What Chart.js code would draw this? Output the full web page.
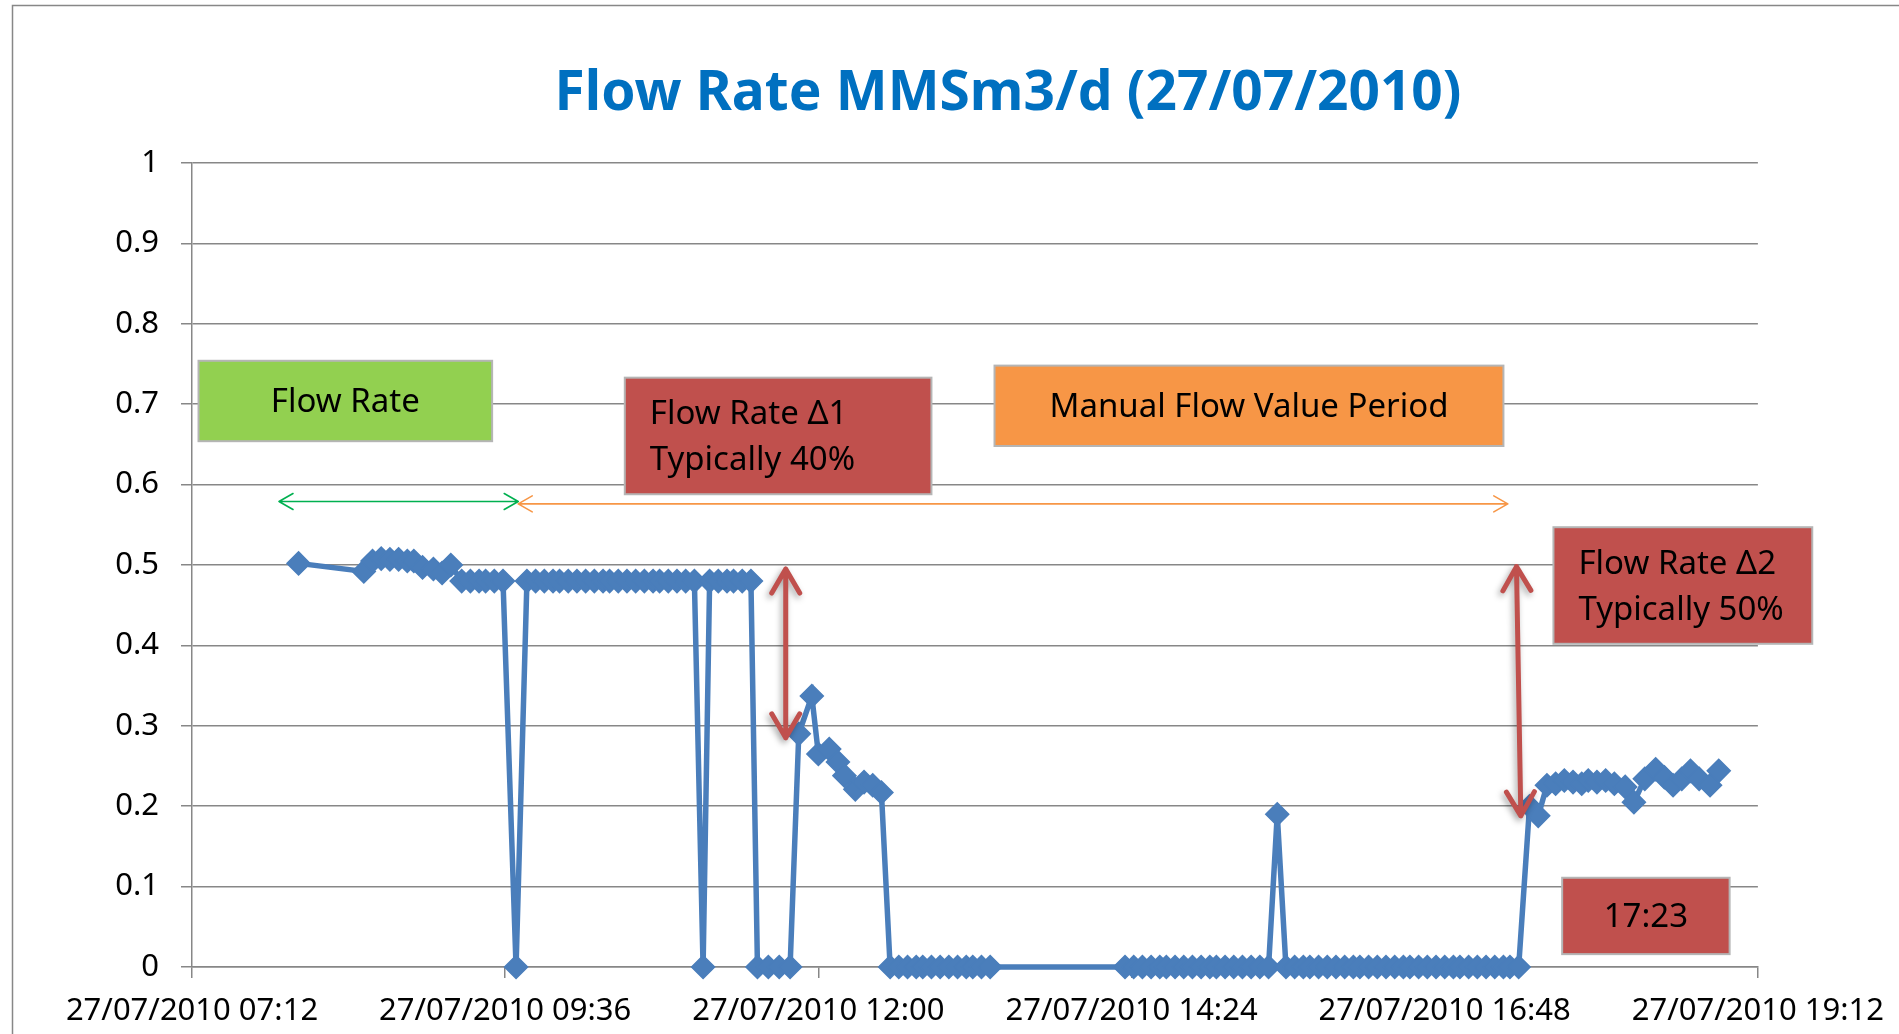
<!DOCTYPE html>
<html>
<head>
<meta charset="utf-8">
<title>Flow Rate MMSm3/d (27/07/2010)</title>
<script src="https://cdn.jsdelivr.net/npm/chart.js@4.4.1/dist/chart.umd.min.js"></script>
<style>
  html, body { margin: 0; padding: 0; background: #fff; }
  #wrap { width: 1899px; height: 1034px; }
</style>
</head>
<body>
<div id="wrap"><canvas id="flowChart" width="1899" height="1034"></canvas></div>
<script>
const chartTitle = "Flow Rate MMSm3/d (27/07/2010)";
const dateLabel = "27/07/2010";

// sample times and flow values
const sampleTimes = [
  "08:01","08:31","08:35","08:39","08:43","08:47","08:51","08:54","08:58","09:03","09:07","09:11",
  "09:16","09:20","09:24","09:27","09:31","09:35","09:41",
  "09:46","09:50","09:54","09:58","10:01","10:05","10:09","10:13","10:17","10:21","10:24",
  "10:28","10:32","10:36","10:40","10:44","10:47","10:51","10:55","10:59","11:03",
  "11:07",
  "11:10","11:14","11:18","11:21","11:25","11:29",
  "11:32","11:37","11:42","11:47",
  "11:51","11:57","12:00","12:05","12:09","12:12","12:17","12:21","12:25","12:29",
  "12:33","12:37","12:41","12:45","12:48","12:52","12:56","13:00","13:04","13:08","13:11","13:15","13:19",
  "14:21","14:25","14:29","14:33","14:37","14:40","14:44","14:48","14:52","14:56","15:00","15:03",
  "15:07","15:11","15:15","15:19","15:23","15:27",
  "15:31",
  "15:35","15:39","15:43","15:46","15:50","15:54","15:58","16:02","16:06","16:09","16:13","16:17",
  "16:21","16:25","16:29","16:32","16:36","16:40","16:44","16:48","16:52","16:55","16:59","17:03",
  "17:07","17:11","17:15","17:18",
  "17:22","17:27","17:31","17:35","17:39","17:43","17:47","17:51","17:54","17:58","18:02","18:06",
  "18:11","18:15","18:20","18:25","18:29","18:33","18:37","18:41","18:45","18:50","18:54"
];

const flowValues = [
  0.502,0.492,0.505,0.508,0.507,0.507,0.505,0.505,0.497,0.495,0.490,0.500,
  0.48,0.48,0.48,0.48,0.48,0.48,0,
  0.48,0.48,0.48,0.48,0.48,0.48,0.48,0.48,0.48,0.48,0.48,
  0.48,0.48,0.48,0.48,0.48,0.48,0.48,0.48,0.48,0.48,
  0,
  0.48,0.48,0.48,0.48,0.48,0.48,
  0,0,0,0,
  0.290,0.337,0.265,0.271,0.255,0.238,0.221,0.230,0.226,0.217,
  0,0,0,0,0,0,0,0,0,0,0,0,0,
  0,0,0,0,0,0,0,0,0,0,0,0,
  0,0,0,0,0,0,
  0.190,
  0,0,0,0,0,0,0,0,0,0,0,0,0,
  0,0,0,0,0,0,0,0,0,0,0,0,
  0,0,0,0,
  0.200,0.188,0.226,0.228,0.232,0.230,0.228,0.232,0.230,0.232,0.228,0.224,
  0.205,0.234,0.246,0.236,0.226,0.234,0.244,0.234,0.226,0.244,0.246
];

const xTickTimes = ["07:12", "09:36", "12:00", "14:24", "16:48", "19:12"];
const yTickValues = [0, 0.1, 0.2, 0.3, 0.4, 0.5, 0.6, 0.7, 0.8, 0.9, 1];

// callout boxes and arrows, placed in chart units (time, flow)
const noteBoxes = [
  { lines: ["Flow Rate"], from: "07:15", to: "09:30", top: 0.754, bottom: 0.654, fill: "#92D050", align: "center" },
  { lines: ["Flow Rate \u03941", "Typically 40%"], from: "10:31", to: "12:52", top: 0.733, bottom: 0.588, fill: "#C0504D", align: "left" },
  { lines: ["Manual Flow Value Period"], from: "13:21", to: "17:15", top: 0.748, bottom: 0.648, fill: "#F79646", align: "center" },
  { lines: ["Flow Rate \u03942", "Typically 50%"], from: "17:38", to: "19:37", top: 0.547, bottom: 0.402, fill: "#C0504D", align: "left" },
  { lines: ["17:23"], from: "17:42", to: "18:59", top: 0.111, bottom: 0.016, fill: "#C0504D", align: "center" }
];

const noteArrows = [
  { from: ["07:52", 0.579], to: ["09:42", 0.579], color: "#00B050", width: 1.6, head: 14, spread: 8, shadow: false },
  { from: ["09:42", 0.576], to: ["17:17", 0.576], color: "#F79646", width: 1.6, head: 14, spread: 8, shadow: false },
  { from: ["11:45", 0.495], to: ["11:45", 0.285], color: "#C0504D", width: 5, head: 24, spread: 14, shadow: true },
  { from: ["17:21", 0.498], to: ["17:23", 0.188], color: "#C0504D", width: 5, head: 24, spread: 14, shadow: true }
];

function toMinutes(t) {
  const [h, m] = t.split(":").map(Number);
  return h * 60 + m;
}

const fontFamily = "'Noto Sans', 'DejaVu Sans', sans-serif";
const gridColor = "#878787";

function drawArrow(ctx, x1, y1, x2, y2, a) {
  const ang = Math.atan2(y2 - y1, x2 - x1);
  ctx.save();
  if (a.shadow) {
    ctx.shadowColor = "rgba(0, 0, 0, 0.35)";
    ctx.shadowBlur = 6;
    ctx.shadowOffsetX = -2;
    ctx.shadowOffsetY = 3;
  }
  ctx.strokeStyle = a.color;
  ctx.lineWidth = a.width;
  ctx.lineCap = "round";
  ctx.lineJoin = "round";
  ctx.beginPath();
  ctx.moveTo(x1, y1);
  ctx.lineTo(x2, y2);
  [[x1, y1, ang + Math.PI], [x2, y2, ang]].forEach(([x, y, r]) => {
    const c = Math.cos(r), s = Math.sin(r);
    ctx.moveTo(x - a.head * c + a.spread * s, y - a.head * s - a.spread * c);
    ctx.lineTo(x, y);
    ctx.lineTo(x - a.head * c - a.spread * s, y - a.head * s + a.spread * c);
  });
  ctx.stroke();
  ctx.restore();
}

const notesPlugin = {
  id: "notes",
  beforeDraw(chart) {
    const ctx = chart.ctx;
    ctx.save();
    // outer frame, cut off on the right and at the bottom
    ctx.strokeStyle = gridColor;
    ctx.lineWidth = 1.5;
    ctx.strokeRect(12.5, 5.5, chart.width + 20, chart.height + 20);
    // title
    ctx.fillStyle = "#0070C0";
    ctx.font = "bold 55px " + fontFamily;
    ctx.textAlign = "center";
    ctx.textBaseline = "middle";
    ctx.fillText(chartTitle, 1008, 94);
    ctx.restore();
  },
  afterDatasetsDraw(chart) {
    const ctx = chart.ctx;
    const xs = chart.scales.x, ys = chart.scales.y;
    ctx.save();
    noteBoxes.forEach(b => {
      const x0 = xs.getPixelForValue(toMinutes(b.from));
      const x1 = xs.getPixelForValue(toMinutes(b.to));
      const y0 = ys.getPixelForValue(b.top);
      const y1 = ys.getPixelForValue(b.bottom);
      ctx.fillStyle = b.fill;
      ctx.fillRect(x0, y0, x1 - x0, y1 - y0);
      ctx.strokeStyle = "#b5b5b5";
      ctx.lineWidth = 2;
      ctx.strokeRect(x0, y0, x1 - x0, y1 - y0);
      ctx.fillStyle = "#000";
      ctx.font = "33px " + fontFamily;
      ctx.textBaseline = "middle";
      const cy = (y0 + y1) / 2 + 2;
      const gap = 46;
      b.lines.forEach((line, i) => {
        const ly = cy + (i - (b.lines.length - 1) / 2) * gap;
        if (b.align === "left") {
          ctx.textAlign = "left";
          ctx.fillText(line, x0 + 25, ly);
        } else {
          ctx.textAlign = "center";
          ctx.fillText(line, (x0 + x1) / 2, ly);
        }
      });
    });
    noteArrows.forEach(a => {
      drawArrow(ctx,
        xs.getPixelForValue(toMinutes(a.from[0])), ys.getPixelForValue(a.from[1]),
        xs.getPixelForValue(toMinutes(a.to[0])), ys.getPixelForValue(a.to[1]), a);
    });
    ctx.restore();
  }
};

new Chart(document.getElementById("flowChart"), {
  type: "line",
  data: {
    datasets: [{
      label: "Flow Rate",
      data: sampleTimes.map((t, i) => ({ x: toMinutes(t), y: flowValues[i] })),
      borderColor: "#4A7EBB",
      backgroundColor: "#4A7EBB",
      borderWidth: 5.5,
      tension: 0,
      pointStyle: "rectRot",
      pointRadius: 11.5,
      pointBorderWidth: 1.5,
      pointBackgroundColor: "#4A7EBB",
      pointBorderColor: "#4A7EBB",
      clip: false
    }]
  },
  options: {
    responsive: false,
    animation: false,
    devicePixelRatio: 1,
    layout: { padding: { top: 163, right: 138, bottom: 0, left: 0 } },
    plugins: {
      legend: { display: false },
      title: { display: false },
      tooltip: { enabled: false }
    },
    scales: {
      x: {
        type: "linear",
        min: toMinutes(xTickTimes[0]),
        max: toMinutes(xTickTimes[xTickTimes.length - 1]),
        afterBuildTicks: scale => {
          scale.ticks = xTickTimes.map(t => ({ value: toMinutes(t) }));
        },
        afterFit: scale => { scale.height = 67; },
        grid: { drawOnChartArea: false, drawTicks: true, tickLength: 11, color: gridColor, lineWidth: 1.5 },
        border: { display: true, color: gridColor, width: 1.5 },
        ticks: {
          autoSkip: false,
          maxRotation: 0,
          padding: 15,
          color: "#000",
          font: { family: fontFamily, size: 31 },
          callback: (value, index) => dateLabel + " " + xTickTimes[index]
        }
      },
      y: {
        min: 0,
        max: 1,
        afterBuildTicks: scale => {
          scale.ticks = yTickValues.map(v => ({ value: v }));
        },
        afterFit: scale => { scale.width = 192; },
        grid: { drawOnChartArea: true, drawTicks: true, tickLength: 11, color: gridColor, lineWidth: 1.5 },
        border: { display: true, color: gridColor, width: 1.5 },
        ticks: {
          padding: 22,
          color: "#000",
          font: { family: fontFamily, size: 31 },
          callback: value => String(Number(value.toFixed(1)))
        }
      }
    }
  },
  plugins: [notesPlugin]
});
</script>
</body>
</html>
